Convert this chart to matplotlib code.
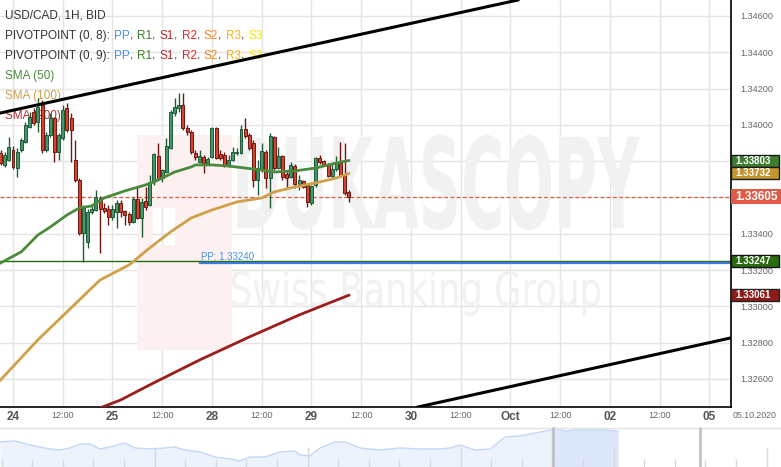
import numpy as np
import matplotlib
matplotlib.use('Agg')
import matplotlib.pyplot as plt
import matplotlib.transforms as mtransforms
from matplotlib.patches import Rectangle, PathPatch
from matplotlib.textpath import TextPath
from matplotlib.font_manager import FontProperties

plt.rcParams['font.family'] = ['Liberation Sans', 'DejaVu Sans']

# USD/CAD 1H candles, hour index: 0 = 24.09 00:00 (weekend removed)
hours = list(range(-3, 82))
opens = [1.33845, 1.33779, 1.33807, 1.33862, 1.33762, 1.33862, 1.33906, 1.33988, 1.34071, 1.34016,
         1.34109, 1.33862, 1.33944, 1.34038, 1.33851, 1.33928, 1.34093, 1.34038, 1.33807, 1.33696,
         1.33404, 1.33355, 1.33520, 1.33531, 1.33597, 1.33542, 1.33537, 1.33492, 1.33520, 1.33570,
         1.33526, 1.33509, 1.33465, 1.33592, 1.33487, 1.33581, 1.33559, 1.33685, 1.33828, 1.33707,
         1.33740, 1.33873, 1.34065, 1.34093, 1.34109, 1.33983, 1.33961, 1.33845, 1.33796, 1.33823,
         1.33790, 1.33823, 1.33983, 1.33840, 1.33834, 1.33773, 1.33807, 1.33845, 1.33845, 1.33977,
         1.33944, 1.33900, 1.33696, 1.33751, 1.33851, 1.33707, 1.33933, 1.33762, 1.33828, 1.33729,
         1.33713, 1.33773, 1.33674, 1.33691, 1.33669, 1.33570, 1.33669, 1.33818, 1.33801, 1.33784,
         1.33718, 1.33757, 1.33790, 1.33729, 1.33630]
highs = [1.33862, 1.33851, 1.33933, 1.33884, 1.33873, 1.33928, 1.34016, 1.34071, 1.34093, 1.34148,
         1.34137, 1.33961, 1.34065, 1.34043, 1.33955, 1.34109, 1.34120, 1.34065, 1.33917, 1.33707,
         1.33559, 1.33537, 1.33559, 1.33641, 1.33608, 1.33570, 1.33559, 1.33559, 1.33586, 1.33586,
         1.33531, 1.33520, 1.33603, 1.33658, 1.33597, 1.33658, 1.33724, 1.33845, 1.33900, 1.33757,
         1.33928, 1.34082, 1.34148, 1.34176, 1.34176, 1.33999, 1.33972, 1.33862, 1.33862, 1.33834,
         1.33823, 1.33988, 1.33988, 1.33862, 1.33851, 1.33834, 1.33878, 1.33873, 1.33999, 1.34038,
         1.33955, 1.33917, 1.33807, 1.33900, 1.33862, 1.33955, 1.33939, 1.33878, 1.33834, 1.33746,
         1.33796, 1.33784, 1.33724, 1.33696, 1.33680, 1.33669, 1.33823, 1.33834, 1.33807, 1.33790,
         1.33790, 1.33828, 1.33906, 1.33900, 1.33641]
lows = [1.33779, 1.33768, 1.33801, 1.33757, 1.33713, 1.33851, 1.33900, 1.33983, 1.33999, 1.33961,
        1.33845, 1.33851, 1.33933, 1.33796, 1.33807, 1.33917, 1.33961, 1.33796, 1.33685, 1.33393,
        1.33244, 1.33322, 1.33509, 1.33526, 1.33294, 1.33514, 1.33448, 1.33476, 1.33432, 1.33492,
        1.33448, 1.33448, 1.33459, 1.33481, 1.33382, 1.33531, 1.33553, 1.33669, 1.33696, 1.33685,
        1.33735, 1.33867, 1.34049, 1.34071, 1.33972, 1.33944, 1.33840, 1.33807, 1.33790, 1.33735,
        1.33779, 1.33818, 1.33812, 1.33807, 1.33768, 1.33768, 1.33801, 1.33834, 1.33840, 1.33928,
        1.33862, 1.33658, 1.33614, 1.33740, 1.33652, 1.33542, 1.33751, 1.33757, 1.33696, 1.33658,
        1.33707, 1.33652, 1.33641, 1.33652, 1.33548, 1.33559, 1.33658, 1.33784, 1.33773, 1.33713,
        1.33707, 1.33746, 1.33713, 1.33614, 1.33575]
closes = [1.33790, 1.33834, 1.33878, 1.33768, 1.33851, 1.33917, 1.33999, 1.34043, 1.34010, 1.34098,
          1.33862, 1.33944, 1.34038, 1.33851, 1.33944, 1.34082, 1.33972, 1.33972, 1.33696, 1.33404,
          1.33542, 1.33520, 1.33537, 1.33603, 1.33537, 1.33526, 1.33492, 1.33537, 1.33570, 1.33520,
          1.33503, 1.33465, 1.33592, 1.33487, 1.33575, 1.33548, 1.33685, 1.33840, 1.33707, 1.33751,
          1.33884, 1.34071, 1.34098, 1.34109, 1.33983, 1.33961, 1.33851, 1.33823, 1.33828, 1.33790,
          1.33812, 1.33983, 1.33818, 1.33818, 1.33773, 1.33807, 1.33851, 1.33851, 1.33977, 1.33939,
          1.33873, 1.33696, 1.33762, 1.33856, 1.33707, 1.33939, 1.33762, 1.33828, 1.33713, 1.33707,
          1.33779, 1.33674, 1.33696, 1.33658, 1.33575, 1.33663, 1.33818, 1.33796, 1.33779, 1.33718,
          1.33757, 1.33790, 1.33718, 1.33625, 1.33605]

# moving averages
sma50_h = [-3, 2, 6, 9, 13, 16, 19, 22, 27, 32, 34, 39, 43, 44, 48, 52, 56, 60, 63, 68, 73, 78, 81]
sma50_v = [1.33239, 1.33300, 1.33393, 1.33437, 1.33503, 1.33542, 1.33553, 1.33597, 1.33636, 1.33669,
           1.33685, 1.33740, 1.33768, 1.33779, 1.33779, 1.33773, 1.33762, 1.33751, 1.33740, 1.33746,
           1.33762, 1.33790, 1.33803]
sma100_h = [-3, 6, 16, 21, 28, 33, 38, 43, 48, 54, 60, 63, 68, 73, 78, 81]
sma100_v = [1.32594, 1.32815, 1.33035, 1.33145, 1.33228, 1.33322, 1.33410, 1.33487, 1.33531, 1.33575,
            1.33597, 1.33630, 1.33658, 1.33680, 1.33707, 1.33732]
sma200_h = [18, 21, 26, 33, 45, 57, 69, 81]
sma200_v = [1.32420, 1.32440, 1.32484, 1.32567, 1.32704, 1.32831, 1.32952, 1.33061]

# channel lines (hour, price)
upper_line = ([-3.1, 121.8], [1.34065, 1.34688])
lower_line = ([97.7, 173.2], [1.32445, 1.32826])

pp_level = 1.33240
pp_start = 45
level_green = 1.33247
last_price = 1.33605

tick_hours = list(range(0, 169, 12))
tick_labels = ['24', '12:00', '25', '12:00', '28', '12:00', '29', '12:00',
               '30', '12:00', 'Oct', '12:00', '02', '12:00', '05']
price_ticks = [1.326, 1.328, 1.330, 1.332, 1.334, 1.336, 1.338, 1.340, 1.342, 1.344, 1.346]
hidden_ticks = [1.336, 1.338]  # covered by the price boxes

# navigator (days, relative level)
nav_t = [0, 0.75, 1.5, 2, 2.5, 3, 3.5, 4, 4.5, 5, 5.5, 6.25, 6.75, 7.5, 8.25, 8.75, 9.25, 10,
         10.75, 11.5, 12, 12.5, 13.25, 14, 14.75, 15, 15.5, 16, 16.75, 17.25, 18, 19, 20, 21, 22,
         22.5, 23, 23.75, 24.5, 25.25, 26, 27, 27.55, 27.75, 28.25, 28.75, 29.5, 30.25, 30.9]
nav_level = [25, 26, 22, 20, 18, 17, 19, 23, 23, 18, 20, 24, 19, 18, 19, 20, 17, 15, 10, 8, 6,
             10, 10, 15, 16, 12, 11, 19, 25, 25, 19, 17, 19, 18, 18, 19, 22, 17, 18, 30, 31, 35,
             37, 39, 36, 37, 37, 37, 36]

W, H = 781, 467
fig = plt.figure(figsize=(W / 100, H / 100), dpi=100)
ax = fig.add_axes([0, 60 / H, 731 / W, 407 / H])
ax.set_xlim(-3.135, 173.2)
ax.set_ylim(1.32445, 1.34688)


# watermark
def stretched(s, box, color, weight):
    x0, y0, x1, y1 = box
    tp = TextPath((0, 0), s, size=100, prop=FontProperties(family='DejaVu Sans', weight=weight))
    bb = tp.get_extents()
    tr = mtransforms.Affine2D().translate(-bb.x0, -bb.y0).scale(
        (x1 - x0) / bb.width, (y1 - y0) / bb.height).translate(x0, H - y1)
    ax.add_patch(PathPatch(tp, transform=tr, facecolor=color, edgecolor='none', zorder=1))


stretched('DUKASCOPY', (237, 135, 640, 230), '#f1f1f1', 'bold')
stretched('Swiss Banking Group', (232, 270, 600, 316), '#f1f1f1', 'normal')
for (x0, y0, x1, y1) in [(137, 135, 153, 350), (153, 135, 232, 208), (175, 208, 232, 350),
                         (153, 245, 175, 350)]:
    ax.add_patch(Rectangle((x0, H - y1), x1 - x0, y1 - y0, transform=mtransforms.IdentityTransform(),
                           facecolor='#fcf0f0', edgecolor='none', zorder=1))

# grid and axes
ax.set_axisbelow(True)
ax.grid(True, color='#e4e4e4', lw=1)
for s in ['top', 'left']:
    ax.spines[s].set_visible(False)
for s in ['right', 'bottom']:
    ax.spines[s].set_color('black')
    ax.spines[s].set_linewidth(1.2)
ax.yaxis.tick_right()
ax.set_yticks(price_ticks)
ax.set_yticklabels(['' if v in hidden_ticks else '%.5f' % v for v in price_ticks])
ax.tick_params(axis='y', length=0, pad=7, labelsize=6.6, labelcolor='#666666')
ax.set_xticks(tick_hours)
ax.set_xticklabels(tick_labels)
ax.tick_params(axis='x', length=0, pad=3)
for lbl in ax.get_xticklabels():
    if lbl.get_text() == '12:00':
        lbl.set_fontsize(6.5)
        lbl.set_color('#666666')
    else:
        lbl.set_fontsize(8.5)
        lbl.set_fontweight('bold')
        lbl.set_color('#555555')
fig.text(733 / W, 1 - 416 / H, '05.10.2020', fontsize=6.3, color='#666666', va='center')

# levels
ax.axhline(level_green, color='#2b6a12', lw=1, zorder=2)
ax.plot([pp_start, 173.2], [pp_level, pp_level], color='#3b7ddd', lw=1.6, zorder=2)
ax.text(pp_start + 0.3, pp_level + 0.00004, 'PP: 1.33240', color='#4a90e2', fontsize=7, va='bottom', zorder=2)
ax.axhline(last_price, color='#e05a44', lw=0.9, ls=(0, (3, 2)), zorder=2)

# moving averages
ax.plot(sma50_h, sma50_v, color='#4b8a3c', lw=2, zorder=4)
ax.plot(sma100_h, sma100_v, color='#d0a048', lw=2, zorder=4)
ax.plot(sma200_h, sma200_v, color='#9c1c1c', lw=2, zorder=4)

# candles
for h, o, hi, lo, c in zip(hours, opens, highs, lows, closes):
    up = c >= o
    body = '#45956a' if up else '#d6432c'
    edge = '#1f5a36' if up else '#6b1812'
    ax.vlines(h, lo, hi, color=edge, lw=1, zorder=3)
    ax.bar(h, max(abs(c - o), 0.00003), bottom=min(o, c), width=0.72,
           color=body, edgecolor=edge, linewidth=0.7, zorder=3.5)

# channel
ax.plot(*upper_line, color='black', lw=2.2, zorder=6)
ax.plot(*lower_line, color='black', lw=2.2, zorder=6)


# legend text (top-left)
def chain(y, pieces, size=8.5):
    t = None
    for s, col, gap in pieces:
        if t is None:
            t = ax.annotate(s, xy=(5, H - y), xycoords='figure pixels', color=col,
                            fontsize=size, va='center', ha='left', zorder=2.5)
        else:
            t = ax.annotate(s, xy=(1, 0), xycoords=t, xytext=(gap, 0), textcoords='offset points',
                            color=col, fontsize=size, va='bottom', ha='left', zorder=2.5)


pivot_cols = [('PP', '#4a8ff0'), ('R1', '#3b7d2b'), ('S1', '#b22a2a'), ('R2', '#ee2222'),
              ('S2', '#f5821f'), ('R3', '#f6b500'), ('S3', '#f3e600')]


def pivot_pieces(title):
    p = [(title, '#333333', 0)]
    for i, (name, col) in enumerate(pivot_cols):
        p.append((name, col, 3))
        if i < len(pivot_cols) - 1:
            p.append((',', '#333333', 0))
    return p


chain(16, [('USD/CAD, 1H, BID', '#333333', 0)])
chain(36, pivot_pieces('PIVOTPOINT (0, 8):'))
chain(56, pivot_pieces('PIVOTPOINT (0, 9):'))
chain(76, [('SMA (50)', '#4b8a3c', 0)])
chain(96, [('SMA (100)', '#d0a048', 0)])
chain(116, [('SMA (200)', '#b03030', 0)])

# right-side price boxes
fig.canvas.draw()


def price_box(v, fc, ec, h, w, size):
    yc = ax.transData.transform((0, v))[1]
    fig.add_artist(Rectangle((731, yc - h / 2), w, h, transform=mtransforms.IdentityTransform(),
                             facecolor=fc, edgecolor=ec, lw=1 if ec else 0, zorder=5))
    fig.text(735 / W, yc / H, '%.5f' % v, color='white', fontsize=size, fontweight='bold',
             va='center', ha='left', zorder=6)


price_box(1.33803, '#3e7d32', '#1a1a1a', 12, 48, 7)
price_box(1.33732, '#c4962f', '#1a1a1a', 12, 48, 7)
price_box(last_price, '#e05b45', None, 15, 50, 8.5)
price_box(level_green, '#2b6a0e', '#111111', 12, 48, 7)
price_box(1.33061, '#8e1b1b', '#222222', 12, 48, 7)

# navigator
nav = fig.add_axes([0, 0, 1, 40 / H])
nav.set_xlim(0, W / 20)
nav.set_ylim(0, 40)
nav.axis('off')
nav.fill_between(nav_t, nav_level, 0, color='#edf3fd', lw=0)
nav_t_a = np.array(nav_t)
nav_l_a = np.array(nav_level)
sel = nav_t_a >= 27.55
nav.fill_between(nav_t_a[sel], nav_l_a[sel], 0, color='#dce7fb', lw=0)
nav.plot(nav_t, nav_level, color='#c3d7f6', lw=1)
nav.axhline(39.5, color='#e3e3e3', lw=1)
for i, t in enumerate(np.arange(0.075, W / 20, 1.53)):
    nav.vlines(t, 0, 20 if i % 5 == 0 and i > 0 else 8, color='#d9d9d9', lw=1)
for t in [27.65, 35.0]:
    nav.vlines(t, 0, 40, color='#bdbdbd', lw=1.8)

fig.savefig('out.png', dpi=100)
